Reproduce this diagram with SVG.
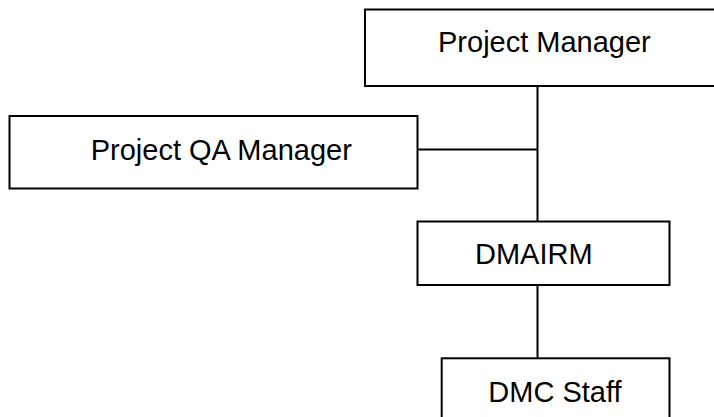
<svg xmlns="http://www.w3.org/2000/svg" width="714" height="417" viewBox="0 0 714 417">
<style>
.box{fill:#fff;stroke:#000;stroke-width:2}
.lbl{font-family:"Liberation Sans",Arial,sans-serif;font-size:29px;fill:#000}
.conn{stroke:#000;stroke-width:2;fill:none}
</style>
<rect width="714" height="417" fill="#fff"/>
<g id="connectors">
<line class="conn" x1="537.5" y1="86" x2="537.5" y2="221"/>
<line class="conn" x1="417.5" y1="149.5" x2="537.5" y2="149.5"/>
<line class="conn" x1="537.5" y1="285" x2="537.5" y2="358"/>
</g>
<g id="project-manager">
<rect class="box" x="365" y="9.5" width="360" height="76.5"/>
<text class="lbl" x="438" y="52.3">Project Manager</text>
</g>
<g id="project-qa-manager">
<rect class="box" x="9.5" y="116" width="408" height="72.5"/>
<text class="lbl" x="90.7" y="160">Project QA Manager</text>
</g>
<g id="dmairm">
<rect class="box" x="417.5" y="221.5" width="252" height="63.5"/>
<text class="lbl" x="475" y="264.3">DMAIRM</text>
</g>
<g id="dmc-staff">
<rect class="box" x="441.7" y="358.3" width="227.8" height="70"/>
<text class="lbl" x="488.3" y="402.3">DMC Staff</text>
</g>
</svg>
